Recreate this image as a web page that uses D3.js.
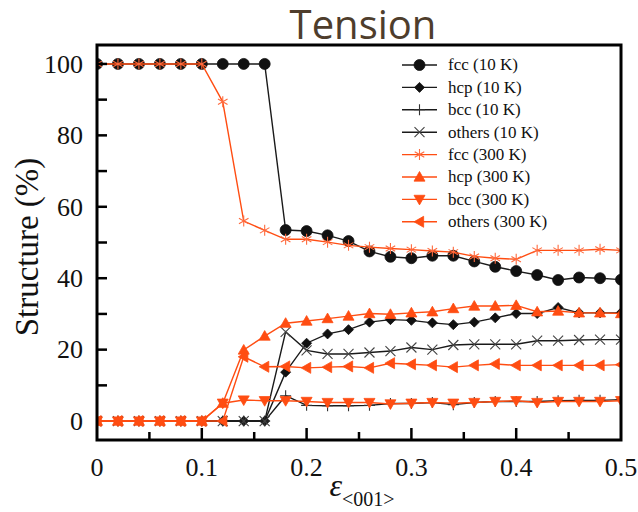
<!DOCTYPE html>
<html>
<head>
<meta charset="utf-8">
<script src="https://cdn.jsdelivr.net/npm/d3@7"></script>
<style>
  body { margin: 0; background: #fff; }
</style>
</head>
<body>
<script>
// strain values along the x axis
var strain = [0, 0.02, 0.04, 0.06, 0.08, 0.10, 0.12, 0.14, 0.16, 0.18, 0.20, 0.22, 0.24,
  0.26, 0.28, 0.30, 0.32, 0.34, 0.36, 0.38, 0.40, 0.42, 0.44, 0.46, 0.48, 0.50];

// structure fractions (%)
var fcc10 = [100, 100, 100, 100, 100, 100, 100, 100, 100, 53.5, 53.2, 52, 50.4,
  47.5, 46, 45.6, 46.3, 46.3, 44.7, 43.2, 42, 40.9, 39.5, 40.2, 40, 39.6];
var hcp10 = [0, 0, 0, 0, 0, 0, 0, 0, 0, 13.7, 21.8, 24.4, 25.6,
  27.7, 28.4, 28.2, 27.5, 27, 27.7, 28.9, 30.1, 30.1, 31.8, 30.3, 30.3, 30.3];
var bcc10 = [0, 0, 0, 0, 0, 0, 0, 0, 0, 7.1, 4.4, 4.3, 4.3,
  4.4, 4.9, 4.9, 5.2, 4.6, 5.2, 5.5, 5.5, 5.5, 5.7, 5.8, 5.8, 6];
var others10 = [0, 0, 0, 0, 0, 0, 0, 0, 0, 25, 19.8, 18.8, 18.8,
  19.2, 19.6, 20.6, 20, 21.3, 21.5, 21.5, 21.5, 22.5, 22.5, 22.7, 22.8, 22.8];
var fcc300 = [100, 100, 100, 100, 100, 100, 89.4, 56, 53.4, 50.9, 50.9, 50.1, 49.2,
  48.7, 48.3, 48, 47.6, 47.3, 46.1, 45.6, 45.3, 47.8, 47.8, 47.8, 48.1, 47.8];
var hcp300 = [0, 0, 0, 0, 0, 0, 5, 19.9, 23.8, 27.4, 28, 28.7, 29.4,
  30.1, 29.9, 30.3, 30.6, 31.5, 32.2, 32.2, 32.4, 30.6, 30.8, 30.3, 30.3, 30.1];
var bcc300 = [0, 0, 0, 0, 0, 0, 5, 5.9, 5.7, 5.7, 5.5, 5.2, 5.2,
  5.2, 4.8, 5, 5.2, 5, 5.2, 5.5, 5.7, 5.2, 5.5, 5.5, 5.5, 5.7];
var others300 = [0, 0, 0, 0, 0, 0, 0, 18, 15.2, 15.3, 14.9, 15.1, 15.3,
  14.9, 16.2, 15.9, 15.6, 15.1, 15.6, 16, 15.6, 15.6, 15.6, 15.6, 15.6, 15.8];

var seriesNames = ["fcc (10 K)", "hcp (10 K)", "bcc (10 K)", "others (10 K)",
  "fcc (300 K)", "hcp (300 K)", "bcc (300 K)", "others (300 K)"];
var seriesValues = [fcc10, hcp10, bcc10, others10, fcc300, hcp300, bcc300, others300];

var xTicks = [0, 0.1, 0.2, 0.3, 0.4, 0.5];
var yTicks = [0, 20, 40, 60, 80, 100];

var black = "#111";
var orange = "#ff4d12";
var serif = "'Liberation Serif', 'Times New Roman', Times, serif";

// look of each series (marker shape, colours)
var styles = [
  { shape: "circle", color: black, fill: black, r: 5.5 },
  { shape: "diamond", color: black, fill: black, r: 5 },
  { shape: "plus", color: "#333", fill: "none", r: 5.5 },
  { shape: "cross", color: "#444", fill: "none", r: 5 },
  { shape: "star", color: "#ff6a3d", fill: "none", r: 5.5 },
  { shape: "up", color: orange, fill: orange, r: 5.5 },
  { shape: "down", color: orange, fill: orange, r: 5.5 },
  { shape: "left", color: orange, fill: orange, r: 5.5 }
];

var svgWidth = 638;
var svgHeight = 512;

var margin = { top: 45, right: 17, bottom: 72, left: 97 };
var chartWidth = svgWidth - margin.left - margin.right;
var chartHeight = svgHeight - margin.top - margin.bottom;

var svg = d3.select("body")
  .append("svg")
  .attr("width", svgWidth)
  .attr("height", svgHeight);

var g = svg.append("g")
  .attr("transform", `translate(${margin.left}, ${margin.top})`);

var xScale = d3.scaleLinear()
  .domain([0, 0.5])
  .range([0, chartWidth]);

var yScale = d3.scaleLinear()
  .domain([-5.3, 105.3])
  .range([chartHeight, 0]);

function markerPath(shape, r) {
  if (shape === "circle") {
    return d3.symbol(d3.symbolCircle, Math.PI * r * r)();
  }
  if (shape === "diamond") {
    return `M0,${-r}L${r},0L0,${r}L${-r},0Z`;
  }
  if (shape === "plus") {
    return `M0,${-r}V${r}M${-r},0H${r}`;
  }
  if (shape === "cross") {
    return `M${-r},${-r}L${r},${r}M${-r},${r}L${r},${-r}`;
  }
  if (shape === "star") {
    var a = r * 0.87, b = r * 0.5;
    return `M0,${-r}V${r}M${-a},${-b}L${a},${b}M${-a},${b}L${a},${-b}`;
  }
  if (shape === "up") {
    return `M0,${-r}L${r},${r * 0.75}L${-r},${r * 0.75}Z`;
  }
  if (shape === "down") {
    return `M0,${r}L${r},${-r * 0.75}L${-r},${-r * 0.75}Z`;
  }
  if (shape === "left") {
    return `M${-r},0L${r * 0.75},${-r}L${r * 0.75},${r}Z`;
  }
}

// clip marks to the frame
svg.append("defs").append("clipPath")
  .attr("id", "plotClip")
  .append("rect")
  .attr("width", chartWidth)
  .attr("height", chartHeight);

var plot = g.append("g").attr("clip-path", "url(#plotClip)");

var line = d3.line()
  .x((d, i) => xScale(strain[i]))
  .y(d => yScale(d));

seriesValues.forEach(function(values, k) {
  var st = styles[k];
  var sg = plot.append("g");

  sg.append("path")
    .datum(values)
    .attr("fill", "none")
    .attr("stroke", k < 4 ? "#1a1a1a" : orange)
    .attr("stroke-width", 1.4)
    .attr("d", line);

  sg.selectAll("path.mark")
    .data(values)
    .enter()
    .append("path")
    .attr("class", "mark")
    .attr("transform", (d, i) => `translate(${xScale(strain[i])}, ${yScale(d)})`)
    .attr("d", markerPath(st.shape, st.r))
    .attr("fill", st.fill)
    .attr("stroke", st.color)
    .attr("stroke-width", st.fill === "none" ? 1.1 : 0.8);
});

// ticks (inward)
var xMinor = d3.range(0.05, 0.5, 0.1);
g.selectAll("line.xmajor")
  .data(xTicks.slice(1, -1))
  .enter()
  .append("line")
  .attr("x1", d => xScale(d)).attr("x2", d => xScale(d))
  .attr("y1", chartHeight).attr("y2", chartHeight - 12)
  .attr("stroke", "#000").attr("stroke-width", 2.5);

g.selectAll("line.xminor")
  .data(xMinor)
  .enter()
  .append("line")
  .attr("x1", d => xScale(d)).attr("x2", d => xScale(d))
  .attr("y1", chartHeight).attr("y2", chartHeight - 8)
  .attr("stroke", "#000").attr("stroke-width", 2.5);

g.selectAll("line.ytick")
  .data(d3.range(10, 101, 10))
  .enter()
  .append("line")
  .attr("x1", 0).attr("x2", 10)
  .attr("y1", d => yScale(d)).attr("y2", d => yScale(d))
  .attr("stroke", "#000").attr("stroke-width", 2.5);

// frame
g.append("rect")
  .attr("width", chartWidth)
  .attr("height", chartHeight)
  .attr("fill", "none")
  .attr("stroke", "#000")
  .attr("stroke-width", 3);

// tick labels
g.selectAll("text.xlab")
  .data(xTicks)
  .enter()
  .append("text")
  .style("font-family", serif)
  .attr("x", d => xScale(d))
  .attr("y", chartHeight + 36)
  .attr("text-anchor", "middle")
  .attr("font-size", 26)
  .attr("fill", "#111")
  .text(d => d === 0 ? "0" : d3.format(".1f")(d));

g.selectAll("text.ylab")
  .data(yTicks)
  .enter()
  .append("text")
  .style("font-family", serif)
  .attr("x", -14)
  .attr("y", d => yScale(d))
  .attr("dy", "0.34em")
  .attr("text-anchor", "end")
  .attr("font-size", 26)
  .attr("fill", "#111")
  .text(d => d);

// axis titles
svg.append("text")
  .style("font-family", serif)
  .attr("transform", "translate(38, 247) rotate(-90)")
  .attr("text-anchor", "middle")
  .attr("font-size", 33)
  .attr("fill", "#111")
  .text("Structure (%)");

var xTitle = svg.append("text")
  .style("font-family", serif)
  .attr("x", 362)
  .attr("y", 496)
  .attr("text-anchor", "middle")
  .attr("fill", "#111");
xTitle.append("tspan")
  .attr("font-style", "italic")
  .attr("font-size", 32)
  .text("\u03b5");
xTitle.append("tspan")
  .attr("font-size", 20)
  .attr("dy", 10)
  .text("<001>");

// title
svg.append("text")
  .attr("x", 363)
  .attr("y", 39)
  .attr("text-anchor", "middle")
  .style("font-family", "'Open Sans', sans-serif")
  .attr("font-size", 40)
  .attr("fill", "#4e3d2c")
  .text("Tension");

// legend
var legend = svg.append("g")
  .attr("transform", "translate(402, 65)");

seriesNames.forEach(function(name, k) {
  var st = styles[k];
  var row = legend.append("g").attr("transform", `translate(0, ${k * 22.4})`);
  row.append("line")
    .attr("x1", 0).attr("x2", 35)
    .attr("stroke", k < 4 ? "#1a1a1a" : orange)
    .attr("stroke-width", 1.4);
  row.append("path")
    .attr("transform", "translate(17.5, 0)")
    .attr("d", markerPath(st.shape, st.r))
    .attr("fill", st.fill)
    .attr("stroke", st.color)
    .attr("stroke-width", st.fill === "none" ? 1.1 : 0.8);
  row.append("text")
    .style("font-family", serif)
    .attr("x", 46)
    .attr("dy", "0.32em")
    .attr("font-size", 17)
    .attr("fill", "#111")
    .text(name);
});
</script>
</body>
</html>
